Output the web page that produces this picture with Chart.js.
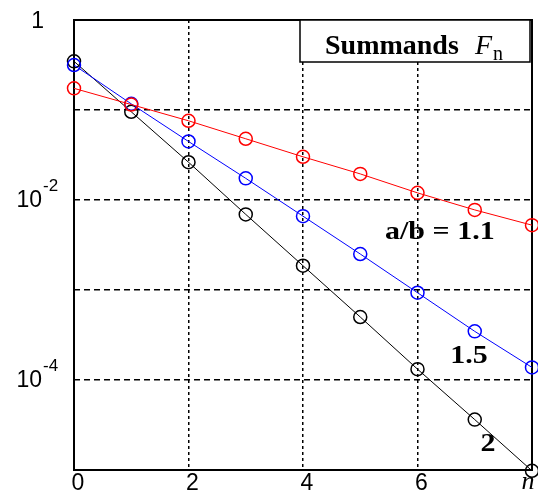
<!DOCTYPE html>
<html>
<head>
<meta charset="utf-8">
<script src="https://cdn.jsdelivr.net/npm/chart.js@4.4.0/dist/chart.umd.min.js"></script>
<style>
  html, body { margin: 0; padding: 0; background: #fff; }
</style>
</head>
<body>
<canvas id="myChart" width="538" height="494"></canvas>
<script>
// summand index n
const nValues = [0, 1, 2, 3, 4, 5, 6, 7, 8];
// F_n for a/b = 1.1, 1.5, 2
const fn11 = [0.174, 0.115, 0.0759, 0.0479, 0.0302, 0.0195, 0.0120, 0.00776, 0.00525];
const fn15 = [0.316, 0.117, 0.0447, 0.0174, 0.00661, 0.00251, 0.000933, 0.000347, 0.000138];
const fn20 = [0.347, 0.0955, 0.0263, 0.00692, 0.00186, 0.000501, 0.000132, 0.0000363, 0.0000098];

const xTickValues = [0, 2, 4, 6, 8];
const xTickLabels = ['0', '2', '4', '6', 'n'];
const yDecades = [1e-5, 1e-4, 1e-3, 1e-2, 1e-1, 1];
const yLabelValues = [1, 1e-2, 1e-4];
const yLabelExps = ['0', '-2', '-4'];

// text labels next to the curves, placed in data coordinates
const curveLabels = [
  { text: 'a/b = 1.1', n: 6.39, f: 0.00436 },
  { text: '1.5', n: 6.9, f: 0.000182 },
  { text: '2', n: 7.23, f: 0.000019 }
];

const serifBold = 'bold 25px "Liberation Serif", "DejaVu Serif", serif';
const sans = '23px "Liberation Sans", Arial, sans-serif';

function series(vals, color) {
  return {
    data: nValues.map((n, i) => ({ x: n, y: vals[i] })),
    borderColor: color,
    borderWidth: 1,
    showLine: true,
    pointRadius: 6.5,
    pointHoverRadius: 6.5,
    pointBorderWidth: 1.5,
    pointBorderColor: color,
    pointBackgroundColor: 'rgba(0,0,0,0)',
    clip: false
  };
}

// draw text stretched a bit sideways, like the original bitmap
function wideText(ctx, txt, x, y, sx) {
  ctx.save();
  ctx.translate(x, y);
  ctx.scale(sx, 1);
  ctx.fillText(txt, 0, 0);
  ctx.restore();
}

const framePlugin = {
  id: 'frame',
  beforeDatasetsDraw(chart) {
    const { ctx, chartArea: a } = chart;
    ctx.save();
    ctx.strokeStyle = '#000';
    ctx.lineWidth = 2;
    ctx.setLineDash([]);
    ctx.strokeRect(a.left, a.top, a.right - a.left, a.bottom - a.top);
    ctx.restore();
  },
  afterDatasetsDraw(chart) {
    const { ctx, chartArea: a } = chart;
    // title box, top right
    const bx = 300, by = a.top, bw = a.right - 2 - bx, bh = 42;
    ctx.save();
    ctx.fillStyle = '#fff';
    ctx.fillRect(bx, by, bw, bh);
    ctx.strokeStyle = '#000';
    ctx.lineWidth = 1.5;
    ctx.strokeRect(bx, by, bw, bh);
    ctx.fillStyle = '#000';
    ctx.textBaseline = 'alphabetic';
    ctx.textAlign = 'left';
    ctx.font = 'bold 28px "Liberation Serif", "DejaVu Serif", serif';
    ctx.fillText('Summands', 325, 54);
    ctx.font = 'italic 28px "Liberation Serif", "DejaVu Serif", serif';
    ctx.fillText('F', 475, 54);
    ctx.font = '20px "Liberation Serif", "DejaVu Serif", serif';
    ctx.fillText('n', 493, 60);
    ctx.restore();
  },
  afterDraw(chart) {
    const { ctx } = chart;
    const xs = chart.scales.x, ys = chart.scales.y;
    ctx.save();
    ctx.fillStyle = '#000';
    // y tick labels
    ctx.textBaseline = 'middle';
    yLabelValues.forEach((v, i) => {
      const py = ys.getPixelForValue(v);
      ctx.font = sans;
      ctx.textAlign = 'right';
      if (yLabelExps[i] === '0') {
        ctx.fillText('1', 44, py + 2);
      } else {
        ctx.fillText('10', 42, py + 1);
        ctx.font = '17px "Liberation Sans", Arial, sans-serif';
        ctx.textAlign = 'left';
        ctx.fillText(yLabelExps[i], 43, py - 14);
      }
    });
    // x tick labels
    xTickValues.forEach((v, i) => {
      const px = xs.getPixelForValue(v);
      ctx.textAlign = 'center';
      if (xTickLabels[i] === 'n') {
        ctx.font = 'italic 26px "Liberation Serif", serif';
        ctx.fillText('n', px - 4, 482);
      } else {
        ctx.font = sans;
        ctx.fillText(xTickLabels[i], px + 4, 484);
      }
    });
    // curve labels
    ctx.font = serifBold;
    ctx.textAlign = 'center';
    curveLabels.forEach(l => {
      wideText(ctx, l.text, xs.getPixelForValue(l.n), ys.getPixelForValue(l.f), 1.2);
    });
    ctx.restore();
  }
};

const ctx = document.getElementById('myChart').getContext('2d');
const myChart = new Chart(ctx, {
  type: 'scatter',
  data: {
    datasets: [
      series(fn11, '#ff0000'),
      series(fn15, '#0000ff'),
      series(fn20, '#000000')
    ]
  },
  options: {
    responsive: false,
    animation: false,
    layout: { autoPadding: false, padding: { left: 74, top: 20, right: 6, bottom: 24 } },
    plugins: { legend: { display: false }, tooltip: { enabled: false } },
    scales: {
      x: {
        type: 'linear',
        min: 0,
        max: 8,
        afterBuildTicks: s => { s.ticks = xTickValues.map(v => ({ value: v })); },
        ticks: { display: false },
        grid: {
          drawTicks: false,
          lineWidth: 1.5,
          color: c => (c.tick && c.tick.value > 0 && c.tick.value < 8) ? '#000' : 'rgba(0,0,0,0)'
        },
        border: { display: false, dash: [3, 3] }
      },
      y: {
        type: 'logarithmic',
        min: 1e-5,
        max: 1,
        afterBuildTicks: s => { s.ticks = yDecades.map(v => ({ value: v })); },
        ticks: { display: false },
        grid: {
          drawTicks: false,
          lineWidth: 1.5,
          color: c => (c.tick && c.tick.value > 2e-5 && c.tick.value < 0.5) ? '#000' : 'rgba(0,0,0,0)'
        },
        border: { display: false, dash: [6, 4] }
      }
    }
  },
  plugins: [framePlugin]
});
</script>
</body>
</html>
